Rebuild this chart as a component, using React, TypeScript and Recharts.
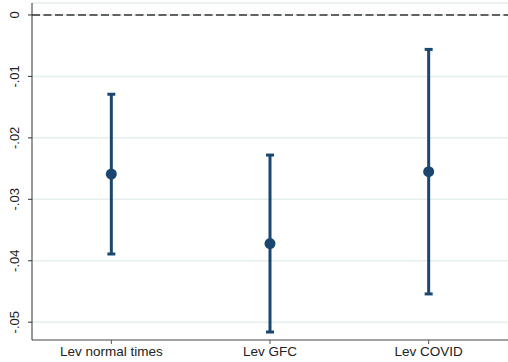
import { ComposedChart, Line, XAxis, YAxis, CartesianGrid, ReferenceLine, ErrorBar } from 'recharts';

const categories = ['Lev normal times', 'Lev GFC', 'Lev COVID'];
const estimates = [-0.0259, -0.0372, -0.0255];
const lowerBounds = [-0.0389, -0.0516, -0.0454];
const upperBounds = [-0.0129, -0.0228, -0.0056];
const yTicks = [0, -0.01, -0.02, -0.03, -0.04, -0.05];

const NAVY = '#1a476f';

const data = categories.map((name, i) => ({
  name,
  coef: estimates[i],
  err: [estimates[i] - lowerBounds[i], upperBounds[i] - estimates[i]],
}));

const fmt = (v: number) => (v === 0 ? '0' : v.toFixed(2).replace('0.', '.'));

const YTick = (props: any) => {
  const { y, payload } = props;
  return (
    <text
      x={15}
      y={y}
      transform={`rotate(-90, 15, ${y})`}
      textAnchor="middle"
      dominantBaseline="central"
      fontSize={13}
      fill="#222"
      fontFamily="'Liberation Sans', Arial, sans-serif"
    >
      {fmt(payload.value)}
    </text>
  );
};

const Dot = (props: any) => {
  const { cx, cy } = props;
  if (cx == null || cy == null) return null;
  return <circle cx={cx} cy={cy} r={5.5} fill={NAVY} />;
};

export default function App() {
  return (
    <div style={{ position: 'fixed', left: 0, top: 0, background: '#fff' }}>
      <ComposedChart width={508} height={362} data={data} margin={{ top: 3, right: 0, bottom: 0, left: 0 }}>
        <CartesianGrid vertical={false} stroke="#e6eef0" strokeWidth={1.5} />
        <XAxis
          dataKey="name"
          scale="band"
          height={22}
          stroke="#555"
          tickSize={4}
          tick={{ fontSize: 13.5, fill: '#222', fontFamily: "'Liberation Sans', Arial, sans-serif" }}
          tickMargin={2}
        />
        <YAxis
          width={32}
          domain={[-0.0529, 0.00195]}
          ticks={yTicks}
          stroke="#333"
          tickSize={4}
          tick={<YTick />}
        />
        <ReferenceLine y={0} stroke="#333" strokeWidth={1.3} strokeDasharray="8 3.5" />
        <Line
          dataKey="coef"
          stroke="none"
          dot={<Dot />}
          activeDot={false}
          isAnimationActive={false}
        >
          <ErrorBar dataKey="err" direction="y" width={4} strokeWidth={3} stroke={NAVY} />
        </Line>
      </ComposedChart>
    </div>
  );
}
